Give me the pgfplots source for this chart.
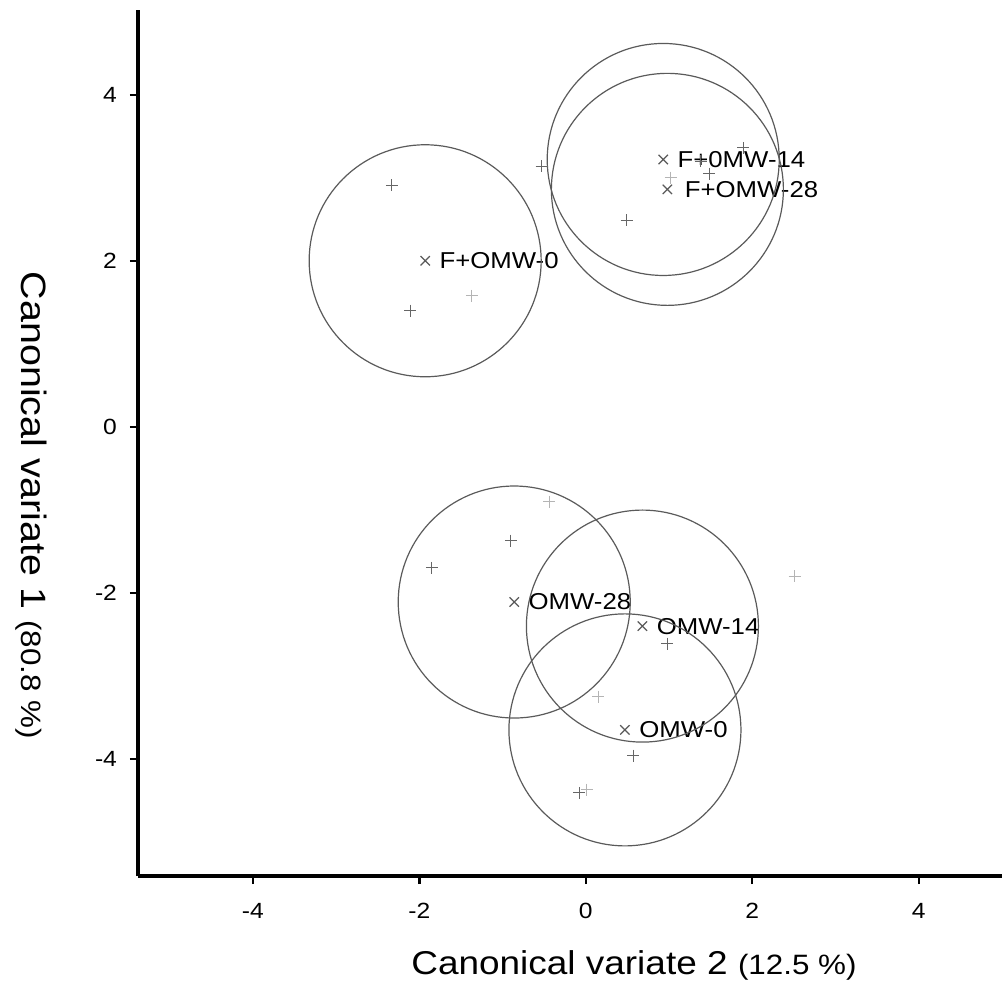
\documentclass[border=0pt]{standalone}
\usepackage{pgfplots}
\pgfplotsset{compat=1.18}
\usepackage{fontspec}
\setmainfont{Liberation Sans}[FakeStretch=1.12]
\definecolor{ptgray}{HTML}{666666}
\definecolor{faint}{HTML}{B4B4B4}
\definecolor{circgray}{HTML}{5A5A5A}
\begin{document}
\begin{tikzpicture}
\path[use as bounding box] (0,0) rectangle (501pt,-493.5pt);
\begin{axis}[
  at={(69pt,-438pt)}, anchor=south west,
  scale only axis, width=432pt, height=433pt,
  xmin=-5.38, xmax=5.0, ymin=-5.41, ymax=5.02,
  axis lines*=left,
  axis line style={line width=1.8pt, black},
  xtick={-4,-2,0,2,4}, ytick={-4,-2,0,2,4},
  xticklabels={-4,-2,0,2,4}, yticklabels={-4,-2,0,2,4},
  tick align=outside, major tick length=4pt,
  tick style={line width=1.2pt, black},
  ticklabel style={font=\fontsize{11}{13}\selectfont},
  xticklabel style={yshift=-6pt},
  yticklabel style={xshift=-3pt},
  clip=false,
  xlabel={Canonical variate 2 {\fontsize{14}{16}\selectfont (12.5 \%)}},
  every axis x label/.style={at={(axis description cs:0.574,-0.114)}, anchor=base, font=\fontsize{16.5}{20}\selectfont},
  ylabel={Canonical variate 1 {\fontsize{14}{16}\selectfont (80.8 \%)}},
  every axis y label/.style={at={(axis description cs:-0.1346,0.428)}, rotate=-90, anchor=base, font=\fontsize{17.6}{20}\selectfont},
]
% 95% confidence circles around group means
\addplot[only marks, mark=o, mark size=58pt, mark options={line width=0.6pt, draw=circgray}]
  coordinates {(-1.93,2.00) (0.93,3.22) (0.98,2.86) (-0.86,-2.11) (0.68,-2.40) (0.47,-3.65)};
% individual observations
\addplot[only marks, mark=+, mark size=3pt, mark options={line width=0.5pt, draw=ptgray}]
  coordinates {(-2.33,2.91) (-2.11,1.40)
               (-0.53,3.14) (0.49,2.49) (1.89,3.36) (1.48,3.05) (1.38,3.20)
               (-0.90,-1.37) (-1.85,-1.70) (0.98,-2.61) (0.57,-3.96) (-0.08,-4.41)};
\addplot[only marks, mark=+, mark size=3pt, mark options={line width=0.5pt, draw=faint}]
  coordinates {(-1.37,1.58) (1.02,3.00) (-0.44,-0.90) (0.15,-3.25) (0.01,-4.37) (2.51,-1.80)};
% group means
\addplot[only marks, mark=x, mark size=3.3pt, mark options={line width=0.6pt, draw=circgray}]
  coordinates {(-1.93,2.00) (0.93,3.22) (0.98,2.86) (-0.86,-2.11) (0.68,-2.40) (0.47,-3.65)};
\begin{scope}[every node/.style={anchor=west, inner sep=0pt, xshift=7pt, font=\fontsize{11.5}{14}\selectfont}]
\node at (axis cs:-1.93,2.00) {F+OMW-0};
\node at (axis cs:0.93,3.22) {F+0MW-14};
\node[xshift=1.5pt] at (axis cs:0.98,2.86) {F+OMW-28};
\node at (axis cs:-0.86,-2.11) {OMW-28};
\node at (axis cs:0.68,-2.40) {OMW-14};
\node at (axis cs:0.47,-3.65) {OMW-0};
\end{scope}
\end{axis}
\end{tikzpicture}
\end{document}
